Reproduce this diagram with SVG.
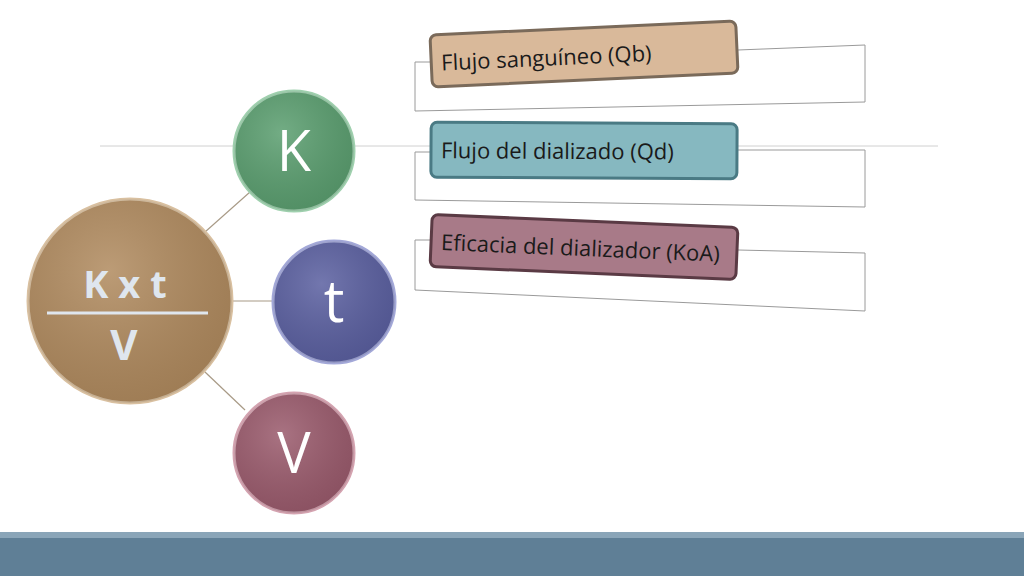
<svg xmlns="http://www.w3.org/2000/svg" width="1024" height="576" viewBox="0 0 1024 576">
<style>
.ln{stroke:#a89a86;stroke-width:1.2;fill:none}
.br{stroke:#9a9a9a;stroke-width:1;fill:none}
.box{stroke-width:3}
.bt{font-family:"Open Sans","Liberation Sans",sans-serif;font-size:22px;fill:#1a1a1a}
.ct{font-family:"Open Sans","Liberation Sans",sans-serif;fill:#fff;text-anchor:middle}
</style>
<defs>
<radialGradient id="g" cx="0.4" cy="0.35" r="0.7"><stop offset="0" stop-color="#fff" stop-opacity="0.15"/><stop offset="1" stop-color="#000" stop-opacity="0.1"/></radialGradient>
</defs>
<rect width="1024" height="576" fill="#fff"/>
<g id="connectors">
<line x1="100" y1="146" x2="938" y2="146" stroke="#d0d0d0" stroke-width="1"/>
<line class="ln" x1="205" y1="232" x2="250" y2="192"/>
<line class="ln" x1="230" y1="301" x2="274" y2="301"/>
<line class="ln" x1="205" y1="372" x2="245" y2="410"/>
<polyline class="br" points="432,62 415,62 415,111 865,102 865,45 738,50"/>
<polyline class="br" points="432,152 415,152 415,200 865,207 865,150 738,150"/>
<polyline class="br" points="432,240 415,240 415,290 865,311 865,253 738,250"/>
</g>
<g id="main">
<circle cx="130" cy="301" r="102" fill="#b08a5e" stroke="#d9c0a0" stroke-width="3"/>
<circle cx="130" cy="301" r="102" fill="url(#g)"/>
<text class="ct" x="125" y="298" font-size="38" font-weight="bold" style="fill:#dfe6ee">K x t</text>
<line x1="47" y1="313" x2="208" y2="313" stroke="#dfe6ee" stroke-width="3"/>
<text class="ct" x="124" y="360" font-size="42" font-weight="bold" style="fill:#dfe6ee">V</text>
</g>
<g id="K"><circle cx="294" cy="151" r="60" fill="#5a9e6f" stroke="#9fd0ae" stroke-width="3"/><circle cx="294" cy="151" r="60" fill="url(#g)"/><text class="ct" x="294" y="171" font-size="56">K</text></g>
<g id="t"><circle cx="334" cy="302" r="61" fill="#5a5fa0" stroke="#a3a8d8" stroke-width="3"/><circle cx="334" cy="302" r="61" fill="url(#g)"/><text class="ct" x="334" y="322" font-size="58">t</text></g>
<g id="V"><circle cx="294" cy="453" r="60" fill="#9a5a6c" stroke="#d4a3b0" stroke-width="3"/><circle cx="294" cy="453" r="60" fill="url(#g)"/><text class="ct" x="294" y="473" font-size="56">V</text></g>
<g id="b1" transform="rotate(-2.6 584 54)"><rect class="box" x="431" y="28" width="306" height="52" rx="6" fill="#d9b99a" stroke="#7a6a5a"/><text class="bt" x="441" y="64">Flujo sanguíneo (Qb)</text></g>
<g id="b2" transform="rotate(0.3 584 150)"><rect class="box" x="431" y="123" width="306" height="55" rx="6" fill="#86b8c0" stroke="#4a7a84"/><text class="bt" x="441" y="159">Flujo del dializado (Qd)</text></g>
<g id="b3" transform="rotate(2.4 584 247)"><rect class="box" x="431" y="221" width="306" height="52" rx="6" fill="#a87a88" stroke="#5a3a44"/><text class="bt" x="441" y="256">Eficacia del dializador (KoA)</text></g>
<rect x="0" y="532" width="1024" height="44" fill="#5f7f96"/>
<rect x="0" y="532" width="1024" height="6" fill="#8aa5b8"/>
</svg>
